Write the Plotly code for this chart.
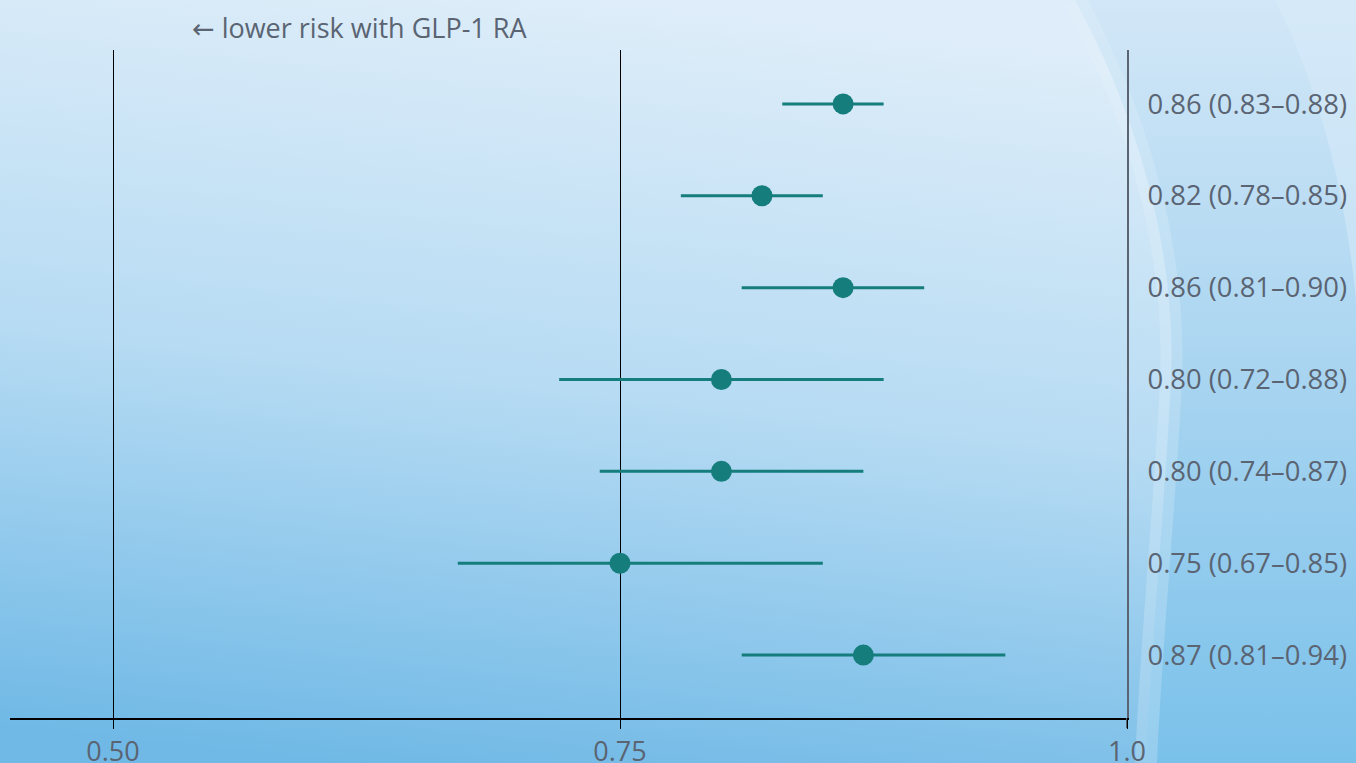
import base64
import plotly.graph_objects as go

# ---- data ----
hr = [0.86, 0.82, 0.86, 0.80, 0.80, 0.75, 0.87]
ci_low = [0.83, 0.78, 0.81, 0.72, 0.74, 0.67, 0.81]
ci_high = [0.88, 0.85, 0.90, 0.88, 0.87, 0.85, 0.94]
labels = ["0.86 (0.83–0.88)", "0.82 (0.78–0.85)", "0.86 (0.81–0.90)",
          "0.80 (0.72–0.88)", "0.80 (0.74–0.87)", "0.75 (0.67–0.85)",
          "0.87 (0.81–0.94)"]
x_ticks = [0.50, 0.75, 1.0]
x_ticklabels = ["0.50", "0.75", "1.0"]
rows = list(range(len(hr)))

TEAL = "#157d7c"
GREY = "#5a6472"

# ---- background (gradient + swoosh) as svg ----
svg = '''<svg xmlns="http://www.w3.org/2000/svg" width="1356" height="763" viewBox="0 0 1356 763" preserveAspectRatio="none">
<defs>
<linearGradient id="g" x1="0.25" y1="1" x2="0.45" y2="0">
<stop offset="0" stop-color="#70b9e6"/>
<stop offset="0.5" stop-color="#b6dbf3"/>
<stop offset="1" stop-color="#deedf9"/>
</linearGradient>
<linearGradient id="g2" x1="0" y1="0" x2="0" y2="1">
<stop offset="0" stop-color="#d2e7f7"/>
<stop offset="0.45" stop-color="#acd6f1"/>
<stop offset="1" stop-color="#7ac1ea"/>
</linearGradient>
</defs>
<rect x="0" y="0" width="1356" height="763" fill="url(#g)"/>
<path d="M1075 0 C1140 120 1180 260 1170 400 C1162 540 1150 660 1146 763 L1356 763 L1356 0 Z" fill="url(#g2)"/>
<path d="M1075 0 C1140 120 1180 260 1170 400 C1162 540 1150 660 1146 763" fill="none" stroke="#e6f3fc" stroke-opacity="0.25" stroke-width="22"/>
<path d="M1275 0 C1320 90 1345 190 1356 300 L1356 0 Z" fill="#d9ecf9" fill-opacity="0.5"/>
</svg>'''
bg_src = "data:image/svg+xml;base64," + base64.b64encode(svg.encode()).decode()

fig = go.Figure()

for i in rows:
    fig.add_trace(go.Scatter(
        x=[ci_low[i], ci_high[i]], y=[i, i], mode="lines",
        line=dict(color=TEAL, width=3), showlegend=False, hoverinfo="skip"))

fig.add_trace(go.Scatter(
    x=hr, y=rows, mode="markers",
    marker=dict(color=TEAL, size=21, line=dict(width=0)),
    showlegend=False))

fig.update_layout(
    width=1356, height=763,
    margin=dict(l=10, r=229, t=50, b=45, autoexpand=False),
    paper_bgcolor="rgba(0,0,0,0)",
    plot_bgcolor="rgba(0,0,0,0)",
    font=dict(family="Open Sans, sans-serif", size=28, color=GREY),
    images=[dict(source=bg_src, xref="paper", yref="paper", x=-10/1117, y=1 + 50/668,
                 sizex=1356/1117, sizey=763/668, xanchor="left", yanchor="top",
                 sizing="stretch", layer="below")],
    xaxis=dict(
        range=[0.4492, 1.0], tickvals=x_ticks, ticktext=x_ticklabels,
        showgrid=True, gridcolor="black", gridwidth=1.3,
        showline=True, linecolor="black", linewidth=2,
        ticks="outside", ticklen=9, tickcolor="black", tickwidth=1.3,
        tickfont=dict(size=27, color=GREY), zeroline=False, automargin=False,
    ),
    yaxis=dict(
        range=[6.685, -0.587], tickvals=rows, ticktext=labels, side="right",
        showgrid=False, zeroline=False, showline=True, linecolor=GREY, linewidth=2,
        ticks="", ticklabelstandoff=13, tickfont=dict(size=27.4, color=GREY),
        automargin=False,
    ),
    annotations=[dict(
        text="<span style='font-family:DejaVu Sans'>←</span> lower risk with GLP-1 RA",
        xref="x", yref="paper",
        x=0.538, y=1 + 22/668, xanchor="left", yanchor="middle",
        showarrow=False, font=dict(size=27, color=GREY))],
)

fig.add_shape(type="line", xref="x", yref="paper", x0=1.0, x1=1.0, y0=0, y1=-10/668,
              line=dict(color=GREY, width=2))

fig.write_html("out.html", config={"displayModeBar": False},
               post_script="document.body.style.margin='0';document.body.style.overflow='hidden';")
